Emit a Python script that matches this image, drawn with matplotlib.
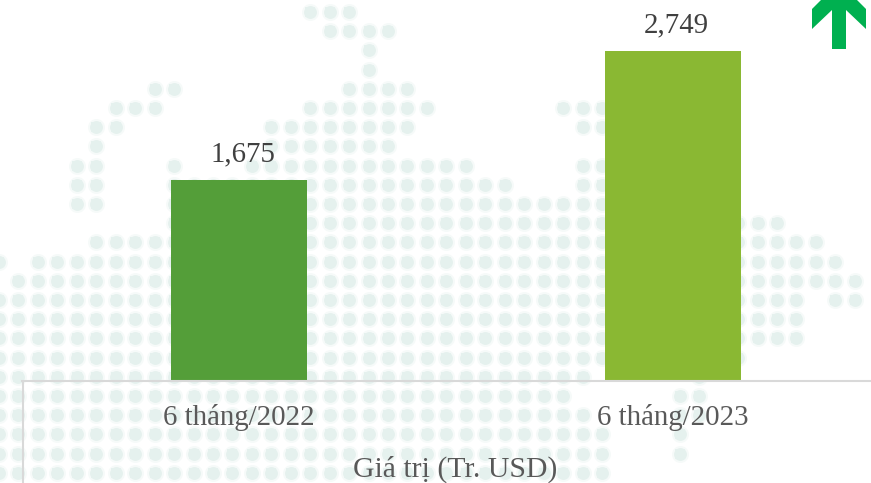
import matplotlib
matplotlib.use("Agg")
import matplotlib.pyplot as plt
from matplotlib.patches import Polygon

plt.rcParams['font.family'] = ['Liberation Serif', 'DejaVu Serif']

# Data
categories = ["6 tháng/2022", "6 tháng/2023"]
values = [1675, 2749]
value_labels = ["1,675", "2,749"]
bar_colors = ["#549E39", "#8AB833"]
series_name = "Giá trị (Tr. USD)"

# Decorative dotted world-map backdrop: (row, [(first column, last column), ...])
map_rows = [
    (0, [(16, 18)]),
    (1, [(17, 20)]),
    (2, [(19, 19)]),
    (3, [(19, 19)]),
    (4, [(8, 9), (18, 21)]),
    (5, [(6, 8), (16, 22), (29, 31)]),
    (6, [(5, 6), (14, 21), (30, 31)]),
    (7, [(5, 5), (14, 20)]),
    (8, [(4, 5), (9, 9), (13, 24), (30, 31)]),
    (9, [(4, 5), (9, 26), (30, 31)]),
    (10, [(4, 5), (9, 31)]),
    (11, [(9, 40)]),
    (12, [(5, 42)]),
    (13, [(0, 0), (2, 43)]),
    (14, [(1, 44)]),
    (15, [(0, 41), (43, 44)]),
    (16, [(0, 41)]),
    (17, [(0, 41)]),
    (18, [(0, 38)]),
    (19, [(0, 30), (36, 36)]),
    (20, [(0, 29), (35, 36)]),
    (21, [(0, 30), (35, 36)]),
    (22, [(0, 31), (35, 35)]),
    (23, [(0, 31), (35, 35)]),
    (24, [(0, 31)]),
]

W, H = 871, 483
fig = plt.figure(figsize=(W / 100, H / 100), dpi=100, facecolor="white")

# Pixel-space background layer
bg = fig.add_axes([0, 0, 1, 1], zorder=0)
bg.set_xlim(0, W)
bg.set_ylim(H, 0)
bg.axis("off")

xs, ys = [], []
for row, spans in map_rows:
    for a, b in spans:
        for k in range(a, b + 1):
            xs.append(-1 + 19.45 * k)
            ys.append(12 + 19.2 * row)
# soft halo, then the rounded-square dot itself
bg.scatter(xs, ys, s=150, marker="o", color="#F6FAF9", linewidths=0)
bg.scatter(xs, ys, s=58, marker="s", color="#E5F1EE", linewidths=0)
bg.scatter(xs, ys, s=86, marker="o", color="#E5F1EE", linewidths=0)

# Left frame line under the axis
bg.plot([22.5, 22.5], [381, H], color="#D9D9D9", lw=1.5, solid_capstyle="butt")

# Up arrow
arrow = [(832, 49), (846, 49), (846, 10), (866, 29), (866, 9), (839, -18),
         (812, 9), (812, 29), (832, 10)]
bg.add_patch(Polygon(arrow, closed=True, facecolor="#00B050", edgecolor="none"))

# Bar chart layer
base_px = 380
ax = fig.add_axes([22 / W, (H - base_px) / H, 868 / W, base_px / H], zorder=1)
ax.patch.set_alpha(0)
ax.set_xlim(-0.5, 1.5)
ax.set_ylim(0, base_px / (329 / 2749))
positions = list(range(len(categories)))
ax.bar(positions, values, width=0.313, color=bar_colors, linewidth=0)

for s in ("top", "right", "left"):
    ax.spines[s].set_visible(False)
ax.spines["bottom"].set_color("#D9D9D9")
ax.spines["bottom"].set_linewidth(1.5)
ax.spines["bottom"].set_position(("outward", 0.6))
ax.set_yticks([])
ax.set_xticks(positions)
ax.set_xticklabels(categories, fontsize=20.8, color="#595959")
ax.tick_params(axis="x", length=0, pad=17)

for p, v, lab in zip(positions, values, value_labels):
    ax.annotate(lab, (p, v), xytext=(2.5, 13.3), textcoords="offset points",
                ha="center", va="baseline", fontsize=20.8, color="#404040")

bg.text(455.5, 476.5, series_name, ha="center", va="baseline",
        fontsize=21.4, color="#595959")

fig.savefig("out.png", dpi=100)
